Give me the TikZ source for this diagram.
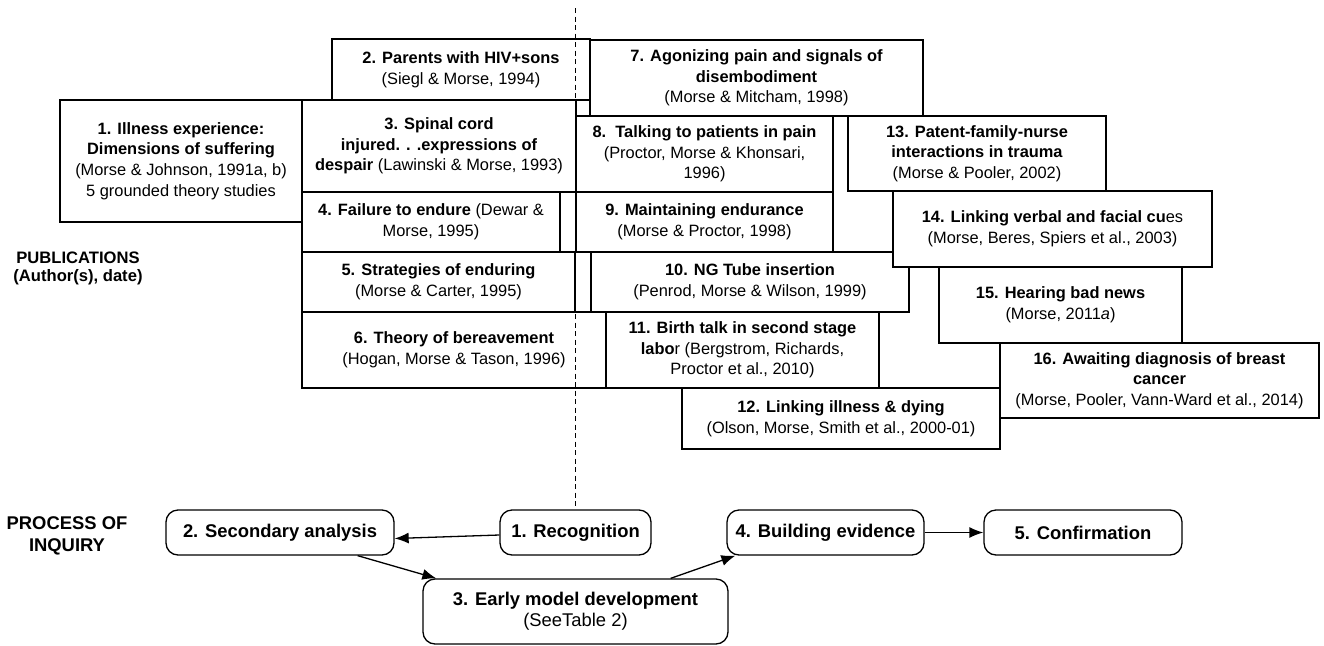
\documentclass[tikz,border=0pt]{standalone}
\usepackage{fontspec}
\setmainfont{Liberation Sans}
\usetikzlibrary{arrows.meta}
\begin{document}
\begin{tikzpicture}[x=1pt,y=-1pt,
  pbox/.style={draw, line width=1.3pt, fill=white, inner sep=0pt, align=center, font=\fontsize{16.4}{20.7}\selectfont},
  qbox/.style={draw, line width=1.3pt, rounded corners=12pt, fill=white, inner sep=0pt, align=center, font=\bfseries\fontsize{18.4}{21}\selectfont},
  arr/.style={-{Latex[length=14pt,width=11pt]}, line width=1.3pt},
  lbl/.style={align=center, font=\bfseries\fontsize{16.6}{18}\selectfont},
  dashline/.style={line width=1.1pt, dash pattern=on 5pt off 3.5pt}
]
\useasboundingbox (0,0) rectangle (1324,645);

% Publications
\node[pbox, minimum width=242pt, minimum height=122pt] (b1) at (181,161)
  {\textbf{1. Illness experience:}\\ \textbf{Dimensions of suffering}\\ (Morse \& Johnson, 1991a, b)\\ 5 grounded theory studies};
\node[pbox, minimum width=258pt, minimum height=61pt] (b2) at (461,69.5)
  {\textbf{2. Parents with HIV+sons}\\ (Siegl \& Morse, 1994)};
\node[pbox, minimum width=274pt, minimum height=92pt] (b3) at (439,146)
  {\textbf{3. Spinal cord}\\ \textbf{injured. . .expressions of}\\ \textbf{despair} (Lawinski \& Morse, 1993)};
\node[pbox, minimum width=258pt, minimum height=60pt] (b4) at (431,222)
  {\textbf{4. Failure to endure} (Dewar \&\\ Morse, 1995)};
\node[pbox, minimum width=273pt, minimum height=60pt] (b5) at (438.5,282)
  {\textbf{5. Strategies of enduring}\\ (Morse \& Carter, 1995)};
\node[pbox, minimum width=304pt, minimum height=76pt] (b6) at (454,350)
  {\textbf{6. Theory of bereavement}\\ (Hogan, Morse \& Tason, 1996)};
\node[pbox, minimum width=333pt, minimum height=76pt] (b7) at (756.5,78)
  {\textbf{7. Agonizing pain and signals of}\\ \textbf{disembodiment}\\ (Morse \& Mitcham, 1998)};
\node[pbox, minimum width=257pt, minimum height=76pt] (b8) at (704.5,154)
  {\textbf{8.\ \ Talking to patients in pain}\\ (Proctor, Morse \& Khonsari,\\ 1996)};
\node[pbox, minimum width=257pt, minimum height=60pt] (b9) at (704.5,222)
  {\textbf{9. Maintaining endurance}\\ (Morse \& Proctor, 1998)};
\node[pbox, minimum width=318pt, minimum height=60pt] (b10) at (750,282)
  {\textbf{10. NG Tube insertion}\\ (Penrod, Morse \& Wilson, 1999)};
\node[pbox, minimum width=273pt, minimum height=76pt] (b11) at (742.5,350)
  {\textbf{11. Birth talk in second stage}\\ \textbf{labo}r (Bergstrom, Richards,\\ Proctor et al., 2010)};
\node[pbox, minimum width=318pt, minimum height=61pt] (b12) at (841,418.5)
  {\textbf{12. Linking illness \& dying}\\ (Olson, Morse, Smith et al., 2000-01)};
\node[pbox, minimum width=258pt, minimum height=75pt] (b13) at (977,153.5)
  {\textbf{13. Patent-family-nurse}\\ \textbf{interactions in trauma}\\ (Morse \& Pooler, 2002)};
\node[pbox, minimum width=319pt, minimum height=76pt] (b14) at (1052.5,229)
  {\textbf{14. Linking verbal and facial cu}es\\ (Morse, Beres, Spiers et al., 2003)};
\node[pbox, minimum width=243pt, minimum height=76pt] (b15) at (1060.5,305)
  {\textbf{15. Hearing bad news}\\ (Morse, 2011\textit{a})};
\node[pbox, minimum width=319pt, minimum height=75pt] (b16) at (1159.5,380.5)
  {\textbf{16. Awaiting diagnosis of breast}\\ \textbf{cancer}\\ (Morse, Pooler, Vann-Ward et al., 2014)};

% Side labels
\node[lbl] (pub) at (78,268) {PUBLICATIONS\\(Author(s), date)};
\node[lbl, font=\bfseries\fontsize{18.4}{22}\selectfont] (proc) at (67,536) {PROCESS OF\\INQUIRY};

% Process of inquiry
\node[qbox, minimum width=228pt, minimum height=45pt] (sec) at (280,532.5) {2. Secondary analysis};
\node[qbox, minimum width=151pt, minimum height=45pt] (rec) at (575.5,532.5) {1. Recognition};
\node[qbox, minimum width=305pt, minimum height=65pt] (early) at (575.5,611.5)
  {3. Early model development\\ \mdseries (SeeTable 2)};
\node[qbox, minimum width=197pt, minimum height=45pt] (build) at (825.5,532.5) {4. Building evidence};
\node[qbox, minimum width=198pt, minimum height=45pt] (conf) at (1083,532.5) {5. Confirmation};

\draw[arr] ([yshift=-2.5pt]rec.west) -- ([yshift=-6pt]sec.east);
\draw[arr] ([xshift=-37pt]sec.south east) -- ([xshift=14pt]early.north west);
\draw[arr] ([xshift=-58pt]early.north east) -- ([xshift=9pt]build.south west);
\draw[arr] (build.east) -- (conf.west);

% Dashed divider
\coordinate (dtop) at (575.5,8);
\draw[dashline] (dtop) -- (rec.north);
\end{tikzpicture}
\end{document}
